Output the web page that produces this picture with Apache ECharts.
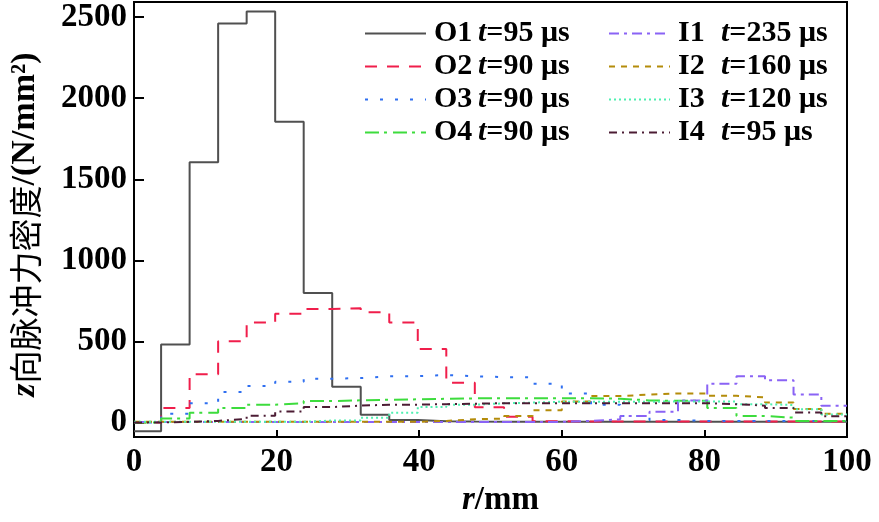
<!DOCTYPE html>
<html><head><meta charset="utf-8">
<script src="https://cdn.jsdelivr.net/npm/echarts@6/dist/echarts.min.js"></script>
<style>html,body{margin:0;padding:0;background:#fff}#c{width:879px;height:522px}</style>
</head><body><div id="c"></div>
<script>
// r bin edges (mm)
const rEdges = [0, 3.8, 7.8, 11.8, 15.8, 19.8, 23.8, 27.8, 31.8, 35.8, 39.8, 43.8, 47.8, 51.9, 55.9, 60.0, 64.1, 68.2, 72.3, 76.3, 80.4, 84.5, 88.5, 92.5, 96.4, 100];
const seriesNames = ['O1', 'O2', 'O3', 'O4', 'I1', 'I2', 'I3', 'I4'];
const pulseTimes = [95, 90, 90, 90, 235, 160, 120, 95];
// z-direction pulse force density per bin (N/mm^2)
const O1 = [-54, 481, 1605, 2460, 2534, 1854, 798, 221, 48, 16, 8, 6, 5, 5, 5, 5, 5, 5, 5, 5, 5, 5, 5, 5, 5];
const O2 = [0, 90, 298, 501, 617, 670, 700, 704, 680, 617, 453, 245, 94, 35, 8, 6, 6, 6, 6, 6, 6, 6, 6, 6, 6];
const O3 = [0, 54, 119, 188, 225, 251, 270, 274, 285, 286, 293, 285, 280, 279, 239, 179, 110, 40, 16, 10, 10, 10, 10, 10, 10];
const O4 = [0, 24, 60, 90, 110, 119, 132, 137, 140, 143, 146, 149, 149, 149, 149, 149, 147, 136, 134, 134, 90, 40, 30, 10, 10];
const I1 = [3, 3, 3, 3, 3, 3, 3, 3, 3, 3, 3, 3, 3, 3, 4, 10, 20, 40, 66, 135, 239, 285, 261, 173, 104];
const I2 = [4, 4, 4, 4, 4, 4, 4, 4, 4, 4, 10, 20, 24, 40, 76, 130, 163, 172, 179, 179, 165, 155, 123, 84, 54];
const I3 = [4, 4, 4, 4, 4, 4, 12, 12, 30, 60, 95, 110, 118, 123, 128, 128, 128, 128, 130, 130, 130, 113, 108, 82, 50];
const I4 = [0, 4, 10, 22, 42, 68, 95, 104, 110, 110, 113, 116, 119, 119, 119, 119, 119, 119, 119, 119, 113, 104, 90, 62, 38];
const yTicks = [0, 500, 1000, 1500, 2000, 2500];
const xTicks = [0, 20, 40, 60, 80, 100];

const allValues = [O1, O2, O3, O4, I1, I2, I3, I4];
const colors = ['#505050', '#f01e4b', '#2f6ff0', '#3ddc3d', '#8a63f5', '#b48c0a', '#4ef0b0', '#4c1c34'];
const dashes = ['solid', [12, 10], [3, 12], [14, 5, 3, 6], [10, 5, 3, 5], [6, 6], [2, 3], [8, 5, 2, 5]];

function stepData(vals) {
  const d = vals.map((v, i) => [rEdges[i], v]);
  d.push([rEdges[rEdges.length - 1], vals[vals.length - 1]]);
  return d;
}

const FONT = "'Liberation Serif', 'Times New Roman', 'Noto Sans CJK SC', serif";
const CJK = "'Noto Sans CJK SC', 'Liberation Serif', serif";

const series = seriesNames.map((n, k) => ({
  name: n,
  type: 'line',
  step: 'end',
  symbol: 'none',
  silent: true,
  data: stepData(allValues[k]),
  lineStyle: { color: colors[k], width: 2, type: dashes[k] },
  itemStyle: { color: colors[k] }
}));

function legendCfg(names, left, aWidth) {
  const base = { fontFamily: FONT, fontSize: 30, fontWeight: 'bold', color: '#000', lineHeight: 33 };
  return {
    show: true,
    data: names,
    orient: 'vertical',
    left: left,
    top: 17,
    padding: 0,
    itemWidth: 61,
    itemHeight: 14,
    itemGap: 0,
    selectedMode: false,
    itemStyle: { opacity: 0, borderWidth: 0 },
    formatter: function (name) {
      const t = pulseTimes[seriesNames.indexOf(name)];
      return '{a|' + name + '}{t|t}{b|=' + t + ' μs}';
    },
    textStyle: Object.assign({}, base, {
      rich: {
        a: Object.assign({}, base, { width: aWidth, padding: [0, 0, 0, 3] }),
        t: Object.assign({}, base, { fontStyle: 'italic' }),
        b: Object.assign({}, base)
      }
    })
  };
}

const chart = echarts.init(document.getElementById('c'), null, { renderer: 'canvas' });
chart.setOption({
  animation: false,
  backgroundColor: '#fff',
  grid: { left: 132, right: 32, top: 2, bottom: 70, show: true, borderColor: '#000', borderWidth: 2, backgroundColor: 'transparent' },
  legend: [
    legendCfg(seriesNames.slice(0, 4), 364, 44),
    legendCfg(seriesNames.slice(4), 608, 43)
  ],
  xAxis: {
    type: 'value', min: 0, max: 100, interval: 20,
    name: '{r|r}/mm',
    nameLocation: 'middle',
    nameGap: 43,
    nameTextStyle: {
      fontFamily: FONT, fontSize: 33, fontWeight: 'bold', color: '#000', padding: [0, 0, 0, 20],
      rich: { r: { fontFamily: FONT, fontSize: 33, fontWeight: 'bold', color: '#000', fontStyle: 'italic' } }
    },
    axisLine: { onZero: false, lineStyle: { color: '#000', width: 2 } },
    axisTick: { inside: true, length: 7, lineStyle: { color: '#000', width: 2 }, customValues: xTicks },
    axisLabel: { fontFamily: FONT, fontSize: 33, fontWeight: 'bold', color: '#000', margin: 9, customValues: xTicks, formatter: v => String(v) },
    splitLine: { show: false }
  },
  yAxis: {
    type: 'value', min: -90, max: 2593,
    name: '{z|z}{c|向脉冲力密度}/(N/mm²)',
    nameLocation: 'middle',
    nameGap: 92,
    nameTextStyle: {
      fontFamily: FONT, fontSize: 34, fontWeight: 'bold', color: '#000', padding: [0, 10, 0, 0],
      rich: {
        z: { fontFamily: FONT, fontSize: 34, fontWeight: 'bold', color: '#000', fontStyle: 'italic' },
        c: { fontFamily: CJK, fontSize: 33, fontWeight: 'normal', color: '#000' }
      }
    },
    axisLine: { onZero: false, lineStyle: { color: '#000', width: 2 } },
    axisTick: { inside: true, length: 10, lineStyle: { color: '#000', width: 2 }, customValues: yTicks },
    axisLabel: { fontFamily: FONT, fontSize: 33, fontWeight: 'bold', color: '#000', margin: 7, customValues: yTicks, formatter: v => String(v) },
    splitLine: { show: false }
  },
  series: series
});
</script>
</body></html>
